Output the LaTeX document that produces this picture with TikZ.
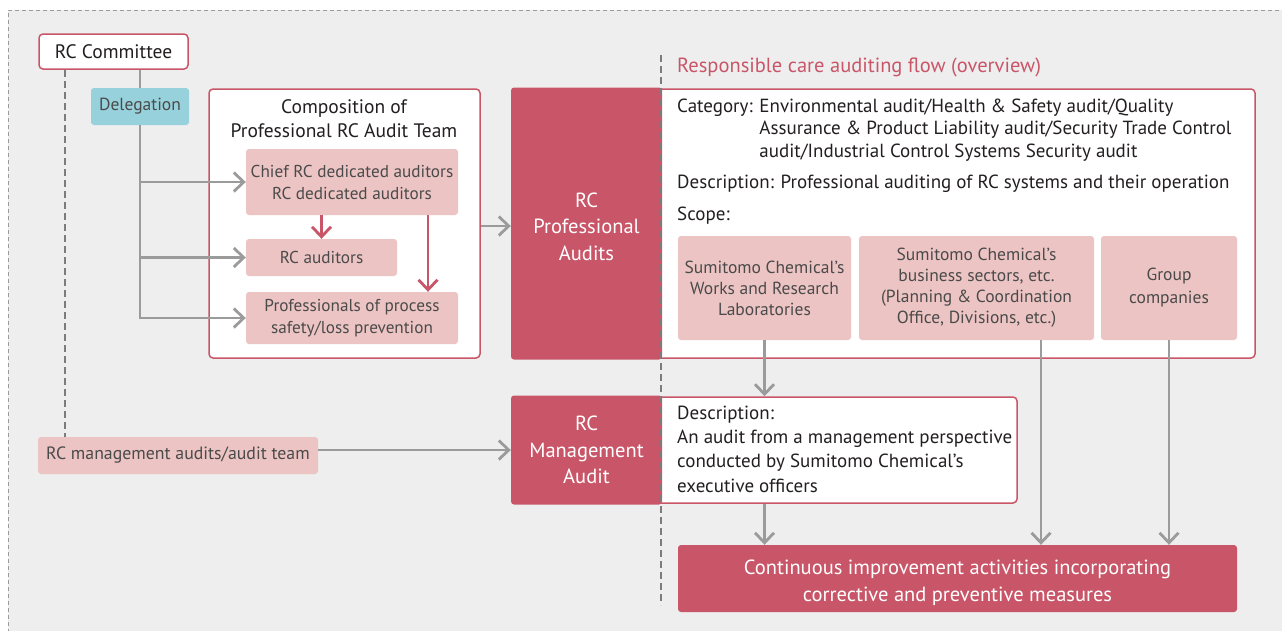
\documentclass[tikz,border=0pt]{standalone}
\usepackage{fontspec}
\setmainfont{PT Sans}
\usetikzlibrary{arrows.meta}
\definecolor{rcred}{HTML}{C95668}
\definecolor{rcpink}{HTML}{EDC4C4}
\definecolor{rcteal}{HTML}{97D1DB}
\definecolor{rcgray}{HTML}{9B9B9B}
\definecolor{rcback}{HTML}{EEEEEE}
\definecolor{rctext}{HTML}{231F20}
\definecolor{rcdark}{HTML}{4A4A4A}
\newcommand{\rcfont}[2]{\fontsize{#1}{#2}\selectfont}
\tikzset{
  redbox/.style={fill=rcred, text=white, rounded corners=3pt, align=center, inner sep=0pt, font=\rcfont{20.5}{26.5}},
  pinkbox/.style={fill=rcpink, text=rcdark, rounded corners=3pt, align=center, inner sep=0pt, font=\rcfont{17.2}{22}},
  linebox/.style={draw=rcred, fill=white, line width=1.5pt, rounded corners=4pt, inner sep=0pt, text=rctext},
  plain/.style={inner sep=0pt, text=rctext, align=left, font=\rcfont{19}{22.5}},
  flow/.style={draw=rcgray, line width=2.8pt, -{Straight Barb[length=10pt,width=19pt]}},
  redflow/.style={draw=rcred, line width=2.8pt, -{Straight Barb[length=10pt,width=19pt]}},
  guide/.style={draw=rcgray!80!black, line width=1.2pt, dash pattern=on 7pt off 4pt},
}
\begin{document}
\begin{tikzpicture}[x=1pt,y=-1pt]
\useasboundingbox (0,0) rectangle (1282,630);
\fill[rcback] (8,10) rectangle (1295,640);
\draw[rcgray, line width=0.8pt, dash pattern=on 4pt off 3pt] (8,640) -- (8,10) -- (1295,10);
% left side: committee and audit team
\node[linebox, minimum width=149, minimum height=35, font=\rcfont{19.5}{22}] (committee) at (113.5,51.5) {RC Committee};
\node[fill=rcteal, text=rcdark, rounded corners=3pt, inner sep=0pt, minimum width=98, minimum height=37, font=\rcfont{17.5}{22}] (deleg) at (140,106.5) {Delegation};
\node[linebox, minimum width=271, minimum height=269] (team) at (344.5,223.5) {};
\node[plain, align=center, font=\rcfont{19.5}{24}] (teamtitle) at (344,119) {Composition of\\Professional RC Audit Team};
\node[pinkbox, minimum width=212, minimum height=66] (chief) at (352,182) {Chief RC dedicated auditors\\RC dedicated auditors};
\node[pinkbox, minimum width=151, minimum height=37] (auditors) at (321.5,257.5) {RC auditors};
\node[pinkbox, minimum width=212, minimum height=52] (process) at (352,318) {Professionals of process\\safety/loss prevention};
\node[pinkbox, minimum width=280, minimum height=37, font=\rcfont{17.8}{22}] (mgmtteam) at (178,455.5) {RC management audits/audit team};
\coordinate (guidetop) at (65,70);
\draw[guide] (guidetop) -- (guidetop |- mgmtteam.north);
\draw[rcgray, line width=2.8pt] (committee.south -| deleg) -- (deleg.north);
\draw[flow] (deleg.south) |- (process.west);
\draw[flow] (deleg.south |- chief.west) -- (chief.west);
\draw[flow] (deleg.south |- auditors.west) -- (auditors.west);
\draw[redflow] (chief.south -| auditors) -- (auditors.north);
\draw[redflow] ([xshift=76pt]chief.south) -- ([xshift=76pt]process.north);
% right side: auditing flow
\node[linebox, minimum width=655, minimum height=269] (profinfo) at (927.5,223.5) {};
\node[redbox, minimum width=151, minimum height=272, text height=74pt] (profaudit) at (586.5,223.5) {RC\\Professional\\Audits};
\draw[flow] (team.east |- 0,226) -- (profaudit.west |- 0,226);
\node[plain, anchor=base west, text=rcred, font=\rcfont{20.5}{22}] (flowtitle) at (677,72) {Responsible care auditing flow (overview)};
\node[plain, anchor=base west] (category) at (677,157) {Category: Environmental audit/Health \& Safety audit/Quality\\
  \hphantom{Category: }Assurance \& Product Liability audit/Security Trade Control\\
  \hphantom{Category: }audit/Industrial Control Systems Security audit};
\node[plain, anchor=base west] (profdesc) at (677,188) {Description: Professional auditing of RC systems and their operation};
\node[plain, anchor=base west] (scope) at (677,220) {Scope:};
\node[pinkbox, minimum width=173, minimum height=104, font=\rcfont{17.5}{21}] (works) at (764.5,288) {Sumitomo Chemical’s\\Works and Research\\Laboratories};
\node[pinkbox, minimum width=235, minimum height=104, font=\rcfont{17.5}{21}] (sectors) at (976.5,288) {Sumitomo Chemical’s\\business sectors, etc.\\(Planning \& Coordination\\Office, Divisions, etc.)};
\node[pinkbox, minimum width=136, minimum height=104, font=\rcfont{17.5}{23}] (group) at (1169,288) {Group\\companies};
\node[linebox, minimum width=417, minimum height=106] (mgmtinfo) at (808.5,450) {};
\node[redbox, minimum width=151, minimum height=109] (mgmtaudit) at (586.5,450) {RC\\Management\\Audit};
\node[plain, anchor=base west, font=\rcfont{19}{24.3}] (mgmtdesc) at (677,492) {Description:\\An audit from a management perspective\\conducted by Sumitomo Chemical’s\\executive officers};
\node[redbox, minimum width=559, minimum height=67, text height=51pt, font=\rcfont{20.5}{27}] (improve) at (957.5,578.5) {Continuous improvement activities incorporating\\corrective and preventive measures};
\draw[flow] (mgmtteam.east |- mgmtaudit.west) -- (mgmtaudit.west);
\draw[flow] (works.south) -- (works.south |- mgmtinfo.north);
\draw[flow] (mgmtinfo.south -| works) -- (improve.north -| works);
\draw[flow] ([xshift=64.5pt]sectors.south) -- ([xshift=64.5pt]sectors.south |- improve.north);
\draw[flow] (group.south) -- (group.south |- improve.north);
\coordinate (splittop) at (661,55);
\coordinate (splitbot) at (661,605);
\draw[guide] (splittop) -- (splitbot);
\end{tikzpicture}
\end{document}
